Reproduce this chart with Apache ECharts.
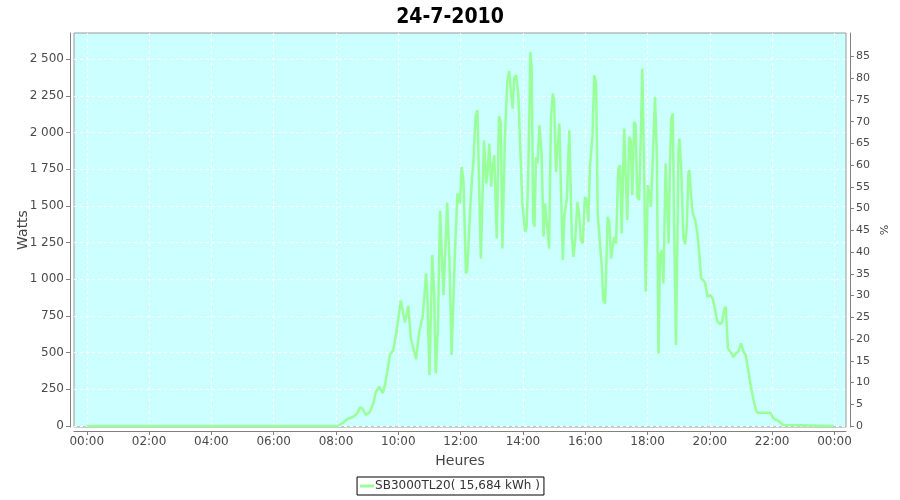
<!DOCTYPE html>
<html>
<head>
<meta charset="utf-8">
<script src="https://cdn.jsdelivr.net/npm/echarts@6/dist/echarts.min.js"></script>
<style>html,body{margin:0;padding:0;background:#fff;}#c{width:900px;height:500px;}</style>
</head>
<body>
<div id="c"></div>
<script>
const chartTitle = '24-7-2010';
const seriesName = 'SB3000TL20( 15,684 kWh )';
const xTicks = [0, 2, 4, 6, 8, 10, 12, 14, 16, 18, 20, 22, 24];
const xTickLabels = ['00:00','02:00','04:00','06:00','08:00','10:00','12:00','14:00','16:00','18:00','20:00','22:00','00:00'];
const wattTicks = [0, 250, 500, 750, 1000, 1250, 1500, 1750, 2000, 2250, 2500];
const pctTicks = [0, 5, 10, 15, 20, 25, 30, 35, 40, 45, 50, 55, 60, 65, 70, 75, 80, 85];
// time of day in hours
const hours = [0,8.05,8.23,8.34,8.56,8.68,8.77,8.85,8.96,9.09,9.2,9.28,9.39,9.5,9.57,9.63,9.73,9.84,9.95,10.08,10.21,10.32,10.4,10.57,10.67,10.78,10.83,10.89,10.93,11.0,11.09,11.15,11.2,11.27,11.34,11.45,11.57,11.64,11.71,11.83,11.9,11.98,12.03,12.09,12.17,12.21,12.3,12.36,12.41,12.48,12.54,12.59,12.65,12.75,12.82,12.86,12.92,12.98,13.02,13.08,13.16,13.23,13.29,13.34,13.42,13.5,13.56,13.62,13.67,13.72,13.78,13.85,13.91,13.98,14.07,14.12,14.17,14.21,14.24,14.28,14.33,14.37,14.42,14.47,14.53,14.6,14.66,14.71,14.76,14.84,14.9,14.96,15.0,15.06,15.12,15.17,15.22,15.28,15.33,15.41,15.49,15.57,15.62,15.67,15.75,15.8,15.86,15.92,15.99,16.05,16.1,16.15,16.23,16.29,16.35,16.4,16.48,16.53,16.58,16.64,16.67,16.72,16.77,16.83,16.88,16.93,16.99,17.06,17.12,17.17,17.25,17.29,17.35,17.41,17.46,17.51,17.57,17.62,17.67,17.73,17.78,17.83,17.89,17.94,18.01,18.06,18.11,18.17,18.24,18.3,18.35,18.4,18.46,18.51,18.58,18.63,18.68,18.72,18.76,18.81,18.86,18.91,18.96,18.99,19.02,19.08,19.15,19.21,19.26,19.31,19.34,19.4,19.45,19.53,19.6,19.66,19.72,19.79,19.85,19.92,20.0,20.09,20.17,20.24,20.33,20.4,20.46,20.51,20.58,20.63,20.7,20.75,20.83,20.91,21.0,21.08,21.15,21.23,21.32,21.4,21.48,21.53,21.94,22.04,22.2,22.36,22.42,23.98];
const watts = [0,0,22,45,63,86,127,118,75,97,155,234,268,223,279,347,484,518,654,856,705,820,600,455,640,745,858,1040,904,347,1165,906,359,654,1467,892,1521,1131,484,1255,1585,1517,1766,1676,1040,1063,1449,1676,1800,2107,2153,1676,1142,1948,1653,1721,1926,1630,1766,1846,1279,2112,2062,1210,1948,2357,2420,2266,2164,2369,2391,2266,1914,1517,1324,1358,1721,2175,2550,2448,1403,1358,1834,1789,2050,1857,1290,1517,1517,1210,2107,2266,2221,1732,1744,2062,1630,1131,1437,1551,2016,1290,1153,1245,1528,1449,1267,1245,1562,1540,1392,1766,1971,2391,2334,1449,1221,1085,858,836,1040,1426,1392,1142,1221,1290,1245,1755,1778,1313,2028,2016,1403,1971,1948,1574,2073,2050,1562,1540,1948,2437,1721,915,1642,1630,1494,1834,2243,1834,495,1165,1199,972,1789,1778,1245,1789,2096,2130,1267,552,1267,1858,1960,1766,1279,1240,1358,1721,1744,1562,1449,1403,1313,1176,1006,994,972,881,892,870,790,710,695,710,795,813,529,513,495,468,495,506,563,506,484,381,268,177,109,91,91,52,34,7,0,0];

const seriesData = hours.map((h, i) => [h, watts[i]]);
const fmtThousands = v => String(v).replace(/\B(?=(\d{3})+(?!\d))/g, ' ');
const labelFont = { fontFamily: 'DejaVu Sans', fontSize: 12, color: '#4a4a4a' };

const chart = echarts.init(document.getElementById('c'), null, { renderer: 'canvas' });
chart.setOption({
  animation: false,
  backgroundColor: '#ffffff',
  title: {
    text: chartTitle, left: 'center', top: 2,
    textStyle: { fontFamily: 'DejaVu Sans Condensed, DejaVu Sans', fontWeight: 'bold', fontSize: 21, color: '#000' }
  },
  legend: {
    data: [seriesName], left: 'center', top: 477,
    borderColor: '#000', borderWidth: 1, padding: [3, 4, 3, 3],
    itemWidth: 14, itemHeight: 3, icon: 'rect', itemGap: 2,
    textStyle: { fontFamily: 'DejaVu Sans', fontSize: 12, color: '#333', padding: [0, 0, 0, -4] }
  },
  grid: {
    left: 74, right: 54, top: 33, bottom: 73,
    show: true, backgroundColor: '#ccffff', borderColor: '#999', borderWidth: 1
  },
  xAxis: {
    type: 'value', min: -0.41, max: 24.37, offset: 4,
    name: 'Heures', nameLocation: 'middle', nameGap: 23, nameMoveOverlap: false,
    nameTextStyle: { fontFamily: 'DejaVu Sans', fontSize: 14, color: '#444' },
    axisLine: { show: true, onZero: false, lineStyle: { color: '#808080' } },
    axisTick: { show: true, length: 4, customValues: xTicks, lineStyle: { color: '#808080' } },
    axisLabel: Object.assign({ customValues: xTicks, margin: 5,
      formatter: v => xTickLabels[xTicks.indexOf(v)] }, labelFont),
    splitLine: { show: true, lineStyle: { color: '#ffffff', type: [3, 3], width: 1 } }
  },
  yAxis: [{
    type: 'value', min: -6.8, max: 2679, offset: 4, position: 'left',
    name: 'Watts', nameLocation: 'middle', nameGap: 40, nameMoveOverlap: false,
    nameTextStyle: { fontFamily: 'DejaVu Sans', fontSize: 14, color: '#444' },
    axisLine: { show: true, onZero: false, lineStyle: { color: '#808080' } },
    axisTick: { show: true, length: 4, customValues: wattTicks, lineStyle: { color: '#808080' } },
    axisLabel: Object.assign({ customValues: wattTicks, margin: 6, formatter: v => fmtThousands(v) }, labelFont),
    splitLine: { show: true, lineStyle: { color: '#ffffff', type: [3, 3], width: 1 } }
  }, {
    type: 'value', min: -0.23, max: 90.4, offset: 4, position: 'right',
    name: '%', nameLocation: 'middle', nameGap: 27, nameRotate: -90, nameMoveOverlap: false,
    nameTextStyle: { fontFamily: 'DejaVu Sans', fontSize: 11, color: '#444' },
    axisLine: { show: true, onZero: false, lineStyle: { color: '#808080' } },
    axisTick: { show: true, length: 4, customValues: pctTicks, lineStyle: { color: '#808080' } },
    axisLabel: Object.assign({ customValues: pctTicks, margin: 6 }, labelFont, { fontSize: 11 }),
    splitLine: { show: false }
  }],
  series: [{
    name: seriesName, type: 'line', data: seriesData, yAxisIndex: 0,
    showSymbol: false, symbol: 'none',
    lineStyle: { color: '#99ff99', width: 2.5 },
    itemStyle: { color: '#99ff99' }
  }]
});
</script>
</body>
</html>
